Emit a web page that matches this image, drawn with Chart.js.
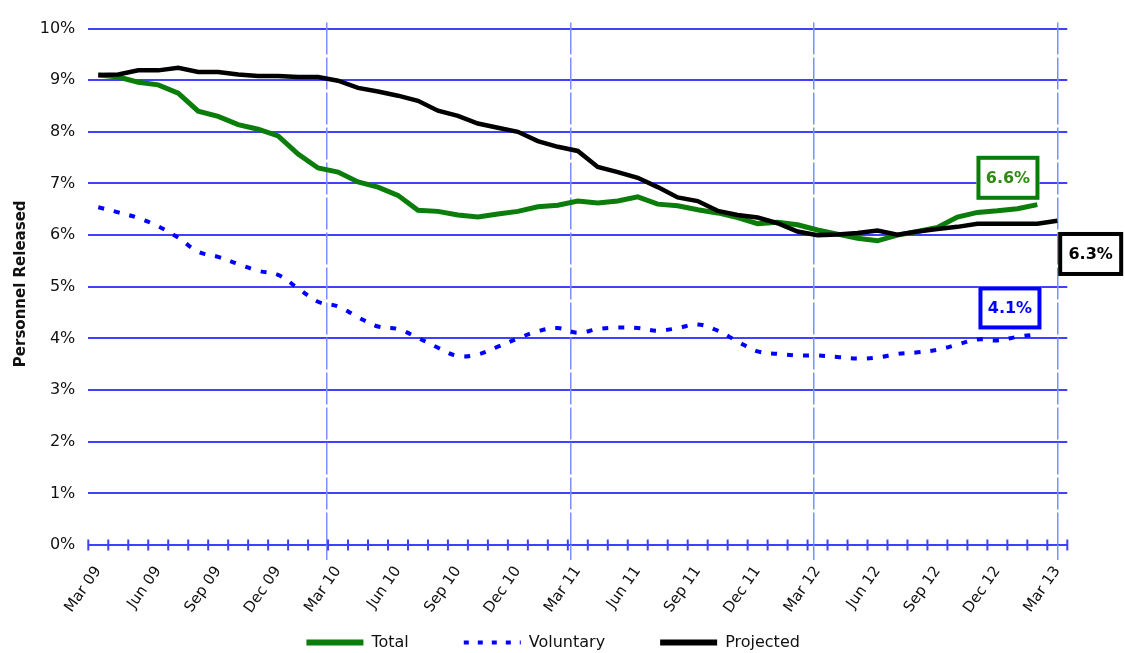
<!DOCTYPE html>
<html>
<head>
<meta charset="utf-8">
<script src="https://cdn.jsdelivr.net/npm/chart.js@4.4.1/dist/chart.umd.min.js"></script>
<style>
  html,body{margin:0;padding:0;background:#fff;}
  #wrap{width:1125px;height:653px;}
</style>
</head>
<body>
<div id="wrap"><canvas id="released" width="1125" height="653"></canvas></div>
<script>
// monthly values, Mar 09 = index 0
const total=[9.10,9.06,8.96,8.91,8.75,8.40,8.30,8.14,8.05,7.92,7.57,7.30,
  7.22,7.03,6.93,6.77,6.48,6.46,6.39,6.35,6.41,6.46,6.55,6.58,
  6.66,6.62,6.66,6.74,6.60,6.57,6.49,6.43,6.34,6.22,6.25,6.20,
  6.10,6.02,5.94,5.89,6.00,6.07,6.15,6.35,6.44,6.47,6.51,6.59];
const voluntary=[6.54,6.44,6.33,6.17,5.95,5.68,5.58,5.44,5.31,5.23,4.97,4.71,
  4.62,4.41,4.23,4.18,4.01,3.82,3.66,3.69,3.84,4.00,4.14,4.20,
  4.11,4.18,4.21,4.20,4.15,4.20,4.27,4.15,3.94,3.75,3.70,3.67,
  3.67,3.64,3.61,3.63,3.70,3.73,3.78,3.88,3.98,3.96,4.03,4.08];
const projected=[9.10,9.11,9.19,9.19,9.24,9.16,9.16,9.11,9.08,9.08,9.06,9.06,
  8.99,8.85,8.78,8.70,8.60,8.41,8.31,8.16,8.08,8.00,7.82,7.71,
  7.63,7.32,7.22,7.11,6.93,6.73,6.66,6.47,6.39,6.34,6.23,6.07,
  6.00,6.01,6.04,6.09,6.01,6.07,6.12,6.16,6.22,6.22,6.22,6.22,6.28];
const tickLabels=["Mar 09","Jun 09","Sep 09","Dec 09","Mar 10","Jun 10","Sep 10","Dec 10",
  "Mar 11","Jun 11","Sep 11","Dec 11","Mar 12","Jun 12","Sep 12","Dec 12","Mar 13"];
const calloutLabels=["6.6%","6.3%","4.1%"];

const FONT="'DejaVu Sans', Verdana, sans-serif";
const TEXT="#111";
const tickMonths=tickLabels.map((_,i)=>i*3);
const toPoints=(arr)=>arr.map((v,i)=>({x:i,y:v}));

// small tick marks crossing the 0% line, one per month boundary
const axisTicks={
  id:"axisTicks",
  afterDraw(chart){
    const xs=chart.scales.x, y0=chart.scales.y.getPixelForValue(0), c=chart.ctx;
    c.save();
    c.strokeStyle="#4040ff";
    c.lineWidth=2;
    for(let m=xs.min;m<=xs.max+0.01;m++){
      const px=xs.getPixelForValue(m);
      c.beginPath();
      c.moveTo(px,y0-5.5);
      c.lineTo(px,y0+5.5);
      c.stroke();
    }
    c.restore();
  }
};

// boxed end labels
const callouts={
  id:"callouts",
  afterDraw(chart,args,opts){
    const xs=chart.scales.x, ys=chart.scales.y, c=chart.ctx;
    opts.boxes.forEach((b,i)=>{
      const cx=xs.getPixelForValue(b.x), cy=ys.getPixelForValue(b.y);
      c.save();
      c.fillStyle="#fff";
      c.fillRect(cx-b.w/2,cy-b.h/2,b.w,b.h);
      c.strokeStyle=b.color;
      c.lineWidth=4;
      c.strokeRect(cx-b.w/2+2,cy-b.h/2+2,b.w-4,b.h-4);
      c.fillStyle=b.text;
      c.font="bold 16px "+FONT;
      c.textAlign="center";
      c.textBaseline="middle";
      c.fillText(calloutLabels[i],cx,cy+1);
      c.restore();
    });
  }
};

const ctx=document.getElementById("released");
new Chart(ctx,{
  type:"line",
  data:{
    datasets:[
      {label:"Total",data:toPoints(total),borderColor:"#0b7d0b",backgroundColor:"#0b7d0b",
        borderWidth:5,pointRadius:0,tension:0,order:2},
      {label:"Voluntary",data:toPoints(voluntary),borderColor:"#0000ff",backgroundColor:"#0000ff",
        borderWidth:4,borderDash:[6,10],pointRadius:0,tension:0.4,order:1},
      {label:"Projected",data:toPoints(projected),borderColor:"#000",backgroundColor:"#000",
        borderWidth:4.5,pointRadius:0,tension:0,order:0}
    ]
  },
  options:{
    responsive:false,
    animation:false,
    layout:{padding:{left:39,right:57.7,top:15,bottom:-7.5}},
    plugins:{
      legend:{
        position:"bottom",
        labels:{
          usePointStyle:true,pointStyle:"line",pointStyleWidth:57,padding:55,
          color:TEXT,font:{family:FONT,size:16},
          generateLabels(chart){
            const items=Chart.defaults.plugins.legend.labels.generateLabels(chart);
            items.forEach(it=>{
              const ds=chart.data.datasets[it.datasetIndex];
              it.lineDash=ds.borderDash?[5,9]:[];
              it.lineWidth=ds.borderDash?4:6;
              it.strokeStyle=ds.borderColor;
            });
            return items;
          },
          sort:(a,b)=>a.datasetIndex-b.datasetIndex
        }
      },
      tooltip:{enabled:false},
      callouts:{
        boxes:[
          {x:45.53,y:7.11,w:63,h:44,color:"#0b7d0b",text:"#2f8a12"},
          {x:49.67,y:5.635,w:65,h:44,color:"#000",text:"#000"},
          {x:45.63,y:4.59,w:63,h:43,color:"#0000ff",text:"#0000ff"}
        ]
      }
    },
    scales:{
      y:{
        min:0,max:10.115,
        afterFit(s){s.width=49.3;},
        ticks:{stepSize:1,includeBounds:false,padding:13,color:TEXT,
          font:{family:FONT,size:16},callback:v=>v+"%"},
        grid:{color:"#4040ff",lineWidth:2,drawTicks:false},
        border:{display:false},
        title:{display:true,text:"Personnel Released",color:TEXT,
          font:{family:FONT,size:15,weight:"bold"},padding:{top:-27,bottom:0}}
      },
      xg:{
        type:"linear",position:"bottom",weight:0,min:-0.5,max:48.5,
        afterBuildTicks(s){s.ticks=[11.45,23.65,35.8,48].map(v=>({value:v}));},
        afterFit(s){s.height=34.5;},
        ticks:{display:false},
        grid:{color:"#7b90ff",lineWidth:1.5,tickLength:15,tickColor:"#7b90ff",tickWidth:1.5},
        border:{display:false,dash:[32,3]}
      },
      x:{
        type:"linear",position:{y:0},min:-0.5,max:48.5,
        afterBuildTicks(s){s.ticks=tickMonths.map(v=>({value:v}));},
        ticks:{autoSkip:false,minRotation:55,maxRotation:55,padding:18,color:TEXT,
          font:{family:FONT,size:15},callback:(v,i)=>tickLabels[i]},
        grid:{display:false,drawTicks:false},
        border:{display:false}
      }
    }
  },
  plugins:[axisTicks,callouts]
});
</script>
</body>
</html>
